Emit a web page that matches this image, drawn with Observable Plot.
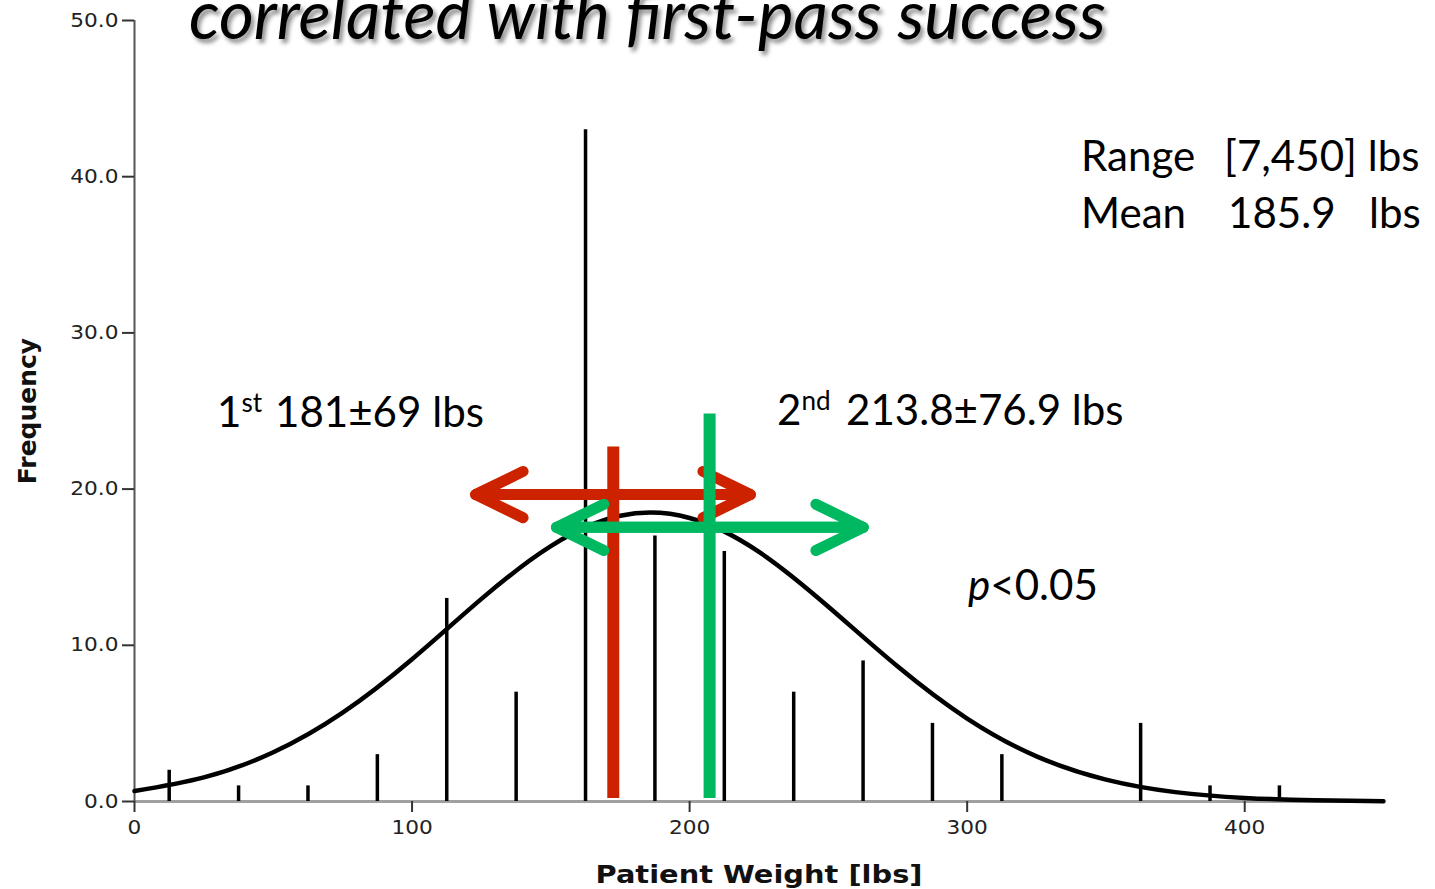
<!DOCTYPE html>
<html>
<head>
<meta charset="utf-8">
<script src="https://cdn.jsdelivr.net/npm/d3@7"></script>
<script src="https://cdn.jsdelivr.net/npm/@observablehq/plot@0.6"></script>
<style>
  html, body { margin: 0; padding: 0; background: #fff; overflow: hidden; }
  #wrap { position: relative; width: 1435px; height: 889px; overflow: hidden; }
  #wrap svg { position: absolute; left: 0; top: 0; }
</style>
</head>
<body>
<div id="wrap"></div>
<script>
// ---- Data ----
const binCenters  = [12.5, 37.5, 62.5, 87.5, 112.5, 137.5, 162.5, 187.5, 212.5, 237.5, 262.5, 287.5, 312.5, 362.5, 387.5, 412.5];
const frequencies = [2, 1, 1, 3, 13, 7, 43, 17, 16, 7, 9, 5, 3, 5, 1, 1];

// fitted normal curve, every 25 lbs
const curveWeights   = [0, 25, 50, 75, 100, 125, 150, 175, 200, 225, 250, 275, 300, 325, 350, 375, 400, 425, 450];
const curveFrequency = [0.67, 1.54, 3.15, 5.69, 9.11, 12.97, 16.35, 18.29, 18.15, 15.98, 12.47, 8.64, 5.31, 2.89, 1.40, 0.60, 0.23, 0.08, 0.02];

const xTicks = [0, 100, 200, 300, 400];
const yTicks = [0, 10, 20, 30, 40, 50];

// pass markers (1st = red, 2nd = green)
const passNames   = ["1st", "2nd"];
const passColors  = ["#cc2200", "#00b860"];
const markerX     = [172.5, 207.2];
const markerTop   = [22.7, 24.8];
const markerBase  = [0.2, 0.2];
const arrowLo     = [122.9, 152.0];
const arrowHi     = [221.9, 262.6];
const arrowY      = [19.65, 17.55];

const xLabel = "Patient Weight [lbs]";
const yLabel = "Frequency";
const titleText = "correlated with first-pass success";

// ---- tables ----
const bins  = binCenters.map((w, i) => ({w, f: frequencies[i]}));
const curve = curveWeights.map((w, i) => ({w, f: curveFrequency[i]}));
const passes = passNames.map((name, i) => ({
  name, color: passColors[i], x: markerX[i], top: markerTop[i], base: markerBase[i],
  lo: arrowLo[i], hi: arrowHi[i], y: arrowY[i]
}));

const passMarks = passes.flatMap(p => [
  Plot.ruleX([p], {x: "x", y1: "base", y2: "top", stroke: p.color, strokeWidth: 12}),
  Plot.arrow([{x1: p.hi, x2: p.lo, y: p.y}, {x1: p.lo, x2: p.hi, y: p.y}], {
    x1: "x1", x2: "x2", y1: "y", y2: "y",
    stroke: p.color, strokeWidth: 11, headAngle: 52, headLength: 7.2,
    strokeLinecap: "round", strokeLinejoin: "miter"
  })
]);

const chart = Plot.plot({
  width: 1435,
  height: 889,
  marginLeft: 134,
  marginRight: 52,
  marginTop: 20,
  marginBottom: 88,
  style: {fontFamily: "DejaVu Sans", fontSize: "19px", background: "#fff", color: "#222"},
  x: {domain: [0, 450]},
  y: {domain: [0, 50]},
  marks: [
    Plot.ruleY([0], {stroke: "#a0a0a0", strokeWidth: 3}),
    Plot.ruleX([0], {y1: 0, y2: 50, stroke: "#555", strokeWidth: 2}),
    Plot.axisX({ticks: xTicks, tickSize: 11, tickPadding: 8, stroke: "#333", strokeWidth: 2,
                fill: "#222", fontSize: 19, label: null}),
    Plot.axisY({ticks: yTicks, tickSize: 12, tickPadding: 4, tickFormat: d3.format(".1f"),
                stroke: "#333", strokeWidth: 2, fill: "#222", fontSize: 19, label: null}),
    Plot.ruleX(bins, {x: "w", y1: 0, y2: "f", stroke: "#000", strokeWidth: 3.5}),
    Plot.line(curve, {x: "w", y: "f", curve: "natural", stroke: "#000", strokeWidth: 4.5}),
    ...passMarks,
    Plot.text([xLabel], {frameAnchor: "bottom", text: d => d, dy: 81, lineAnchor: "bottom",
                textAnchor: "middle", fontWeight: "bold", fontSize: 25, fill: "#111"}),
    Plot.text([yLabel], {frameAnchor: "left", text: d => d, dx: -99, rotate: -90, lineAnchor: "bottom",
                textAnchor: "middle", fontWeight: "bold", fontSize: 25, fill: "#111"})
  ]
});

const wrap = document.getElementById("wrap");
wrap.appendChild(chart);

// stretch axis texts horizontally like the reference (the SPSS export was widened)
function stretchEl(t, k) {
  const tr = t.getAttribute("transform");
  if (tr) t.setAttribute("transform", tr + ` scale(${k},1)`);
  else {
    const x = +t.getAttribute("x") || 0, y = +t.getAttribute("y") || 0;
    t.setAttribute("transform", `translate(${x},${y}) scale(${k},1) translate(${-x},${-y})`);
  }
}
chart.querySelectorAll('g[aria-label="x-axis tick label"] text, g[aria-label="y-axis tick label"] text')
  .forEach(t => { t.style.fontSize = "19px"; stretchEl(t, 1.14); });
chart.querySelectorAll("text").forEach(t => { if (t.textContent === xLabel) stretchEl(t, 1.155); });

// ---- slide text overlays ----
function measure(html, css) {
  const s = document.createElement("span");
  s.style.cssText = "position:absolute;visibility:hidden;white-space:pre;" + css;
  s.innerHTML = html;
  document.body.appendChild(s);
  const w = s.getBoundingClientRect().width;
  s.remove();
  return w;
}
function fitSize(html, css, target) {
  return 100 * target / measure(html, css + "font-size:100px;");
}
function place(html, left, baseline, css) {
  const d = document.createElement("div");
  d.style.cssText = "position:absolute;white-space:pre;line-height:1.2;top:0;left:" + left + "px;" + css;
  d.innerHTML = html + '<span style="display:inline-block;width:0;height:0"></span>';
  wrap.appendChild(d);
  const m = d.lastChild.getBoundingClientRect().bottom - wrap.getBoundingClientRect().top;
  d.style.top = (baseline - m) + "px";
  return d;
}

const body = "font-family:Lato,'Open Sans',sans-serif;color:#000;";
const S = fitSize("181±69 lbs", body, 209);
const sz = body + "font-size:" + S + "px;";
const sup = (t) => `<span style="font-size:${0.62 * S}px;vertical-align:${0.36 * S}px">${t}</span>`;

// title (italic with drop shadow), cut at the top edge like the reference slide
const tCss = "font-family:Lato,sans-serif;font-style:italic;color:#000;text-shadow:3px 4px 4px rgba(0,0,0,0.45);";
const TS = fitSize(titleText, tCss, 917);
place(titleText, 189, 39, tCss + "font-size:" + TS + "px;");

place("Range", 1081, 171, sz);
place("[7,450] lbs", 1224, 171, sz);
place("Mean", 1081, 228, sz);
place("185.9", 1228, 228, sz);
place("lbs", 1369, 228, sz);

place("1" + sup("st"), 217, 427, sz);
place("181±69 lbs", 275, 427, sz);
place("2" + sup("nd"), 777, 425, sz);
place("213.8±76.9 lbs", 846, 425, sz);
place("<i>p</i>&lt;0.05", 968, 600, sz);
</script>
</body>
</html>
